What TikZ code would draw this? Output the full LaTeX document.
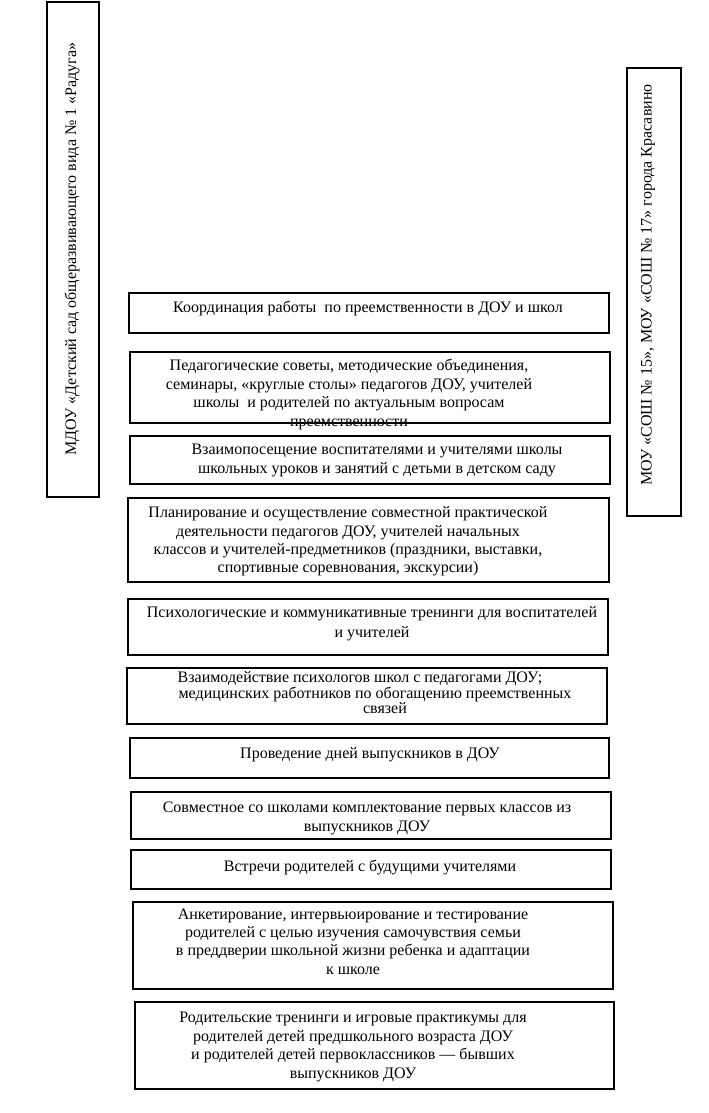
\documentclass[tikz,border=0pt]{standalone}
\usepackage{fontspec}
\setmainfont{Liberation Serif}
\usepackage{tikz}
\usetikzlibrary{positioning}

\begin{document}
\begin{tikzpicture}[
  x=1pt, y=-1pt,
  font=\fontsize{16}{18.4}\selectfont,
  blk/.style={draw,line width=1.2pt,inner sep=0pt,minimum width=480pt},
  side/.style={draw,line width=1.2pt,inner sep=0pt},
  txt/.style={align=center,inner sep=0pt},
  vtxt/.style={rotate=90,inner sep=0pt}
]
  \useasboundingbox (0,0) rectangle (709,1113);

  % institutions
  \node[side,minimum width=52pt,minimum height=495pt] (kgarten) at (73,249.5) {};
  \node[vtxt] (kgartenlbl) at (72,249)
    {МДОУ «Детский сад общеразвивающего вида № 1 «Радуга»};
  \node[side,minimum width=54pt,minimum height=448pt] (schools) at (654,292) {};
  \node[vtxt] (schoolslbl) at (648,285)
    {МОУ «СОШ № 15», МОУ «СОШ № 17» города Красавино};

  % forms of work
  \node[blk,minimum height=40pt] (coord) at (369,313) {};
  \node[txt] at (368,308.5)
    {Координация работы \ по преемственности в ДОУ и школ};

  \node[blk,minimum height=71pt] (councils) at (370,387.5) {};
  \node[txt] at (349,394.5)
    {Педагогические советы, методические объединения,\\
     семинары, «круглые столы» педагогов ДОУ, учителей\\
     школы \ и родителей по актуальным вопросам\\
     преемственности};

  \node[blk,minimum height=48pt] (visits) at (370,460) {};
  \node[txt] at (377,460.5)
    {Взаимопосещение воспитателями и учителями школы\\
     школьных уроков и занятий с детьми в детском саду};

  \node[blk,minimum width=481pt,minimum height=84pt] (joint) at (368.5,540) {};
  \node[txt] at (348,541.5)
    {Планирование и осуществление совместной практической\\
     деятельности педагогов ДОУ, учителей начальных\\
     классов и учителей-предметников (праздники, выставки,\\
     спортивные соревнования, экскурсии)};

  \node[blk,minimum height=56pt] (trainings) at (368,627) {};
  \node[txt,font=\fontsize{16}{20}\selectfont] at (372,623.5)
    {Психологические и коммуникативные тренинги для воспитателей\\
     и учителей};

  \node[blk,minimum height=56pt] (psych) at (367,696) {};
  \node[txt,font=\fontsize{16}{14.5}\selectfont] at (375,692.5)
    {Взаимодействие психологов школ с педагогами ДОУ;\hspace*{30pt}\\
     медицинских работников по обогащению преемственных\\
     \hspace*{20pt}связей};

  \node[blk,minimum width=479pt,minimum height=40pt] (grads) at (369.5,758) {};
  \node[txt] at (370,755)
    {Проведение дней выпускников в ДОУ};

  \node[blk,minimum height=47pt] (classes) at (371,815.5) {};
  \node[txt] at (367,818.5)
    {Совместное со школами комплектование первых классов из\\
     выпускников ДОУ};

  \node[blk,minimum height=39pt] (meetings) at (371,869.5) {};
  \node[txt] at (370,867.5)
    {Встречи родителей с будущими учителями};

  \node[blk,minimum height=87pt] (survey) at (373,945.5) {};
  \node[txt] at (353,941.5)
    {Анкетирование, интервьюирование и тестирование\\
     родителей с целью изучения самочувствия семьи\\
     в преддверии школьной жизни ребенка и адаптации\\
     к школе};

  \node[blk,minimum width=479pt,minimum height=87pt] (parents) at (374.5,1045.5) {};
  \node[txt] at (353,1047)
    {Родительские тренинги и игровые практикумы для\\
     родителей детей предшкольного возраста ДОУ\\
     и родителей детей первоклассников — бывших\\
     выпускников ДОУ};
\end{tikzpicture}
\end{document}
